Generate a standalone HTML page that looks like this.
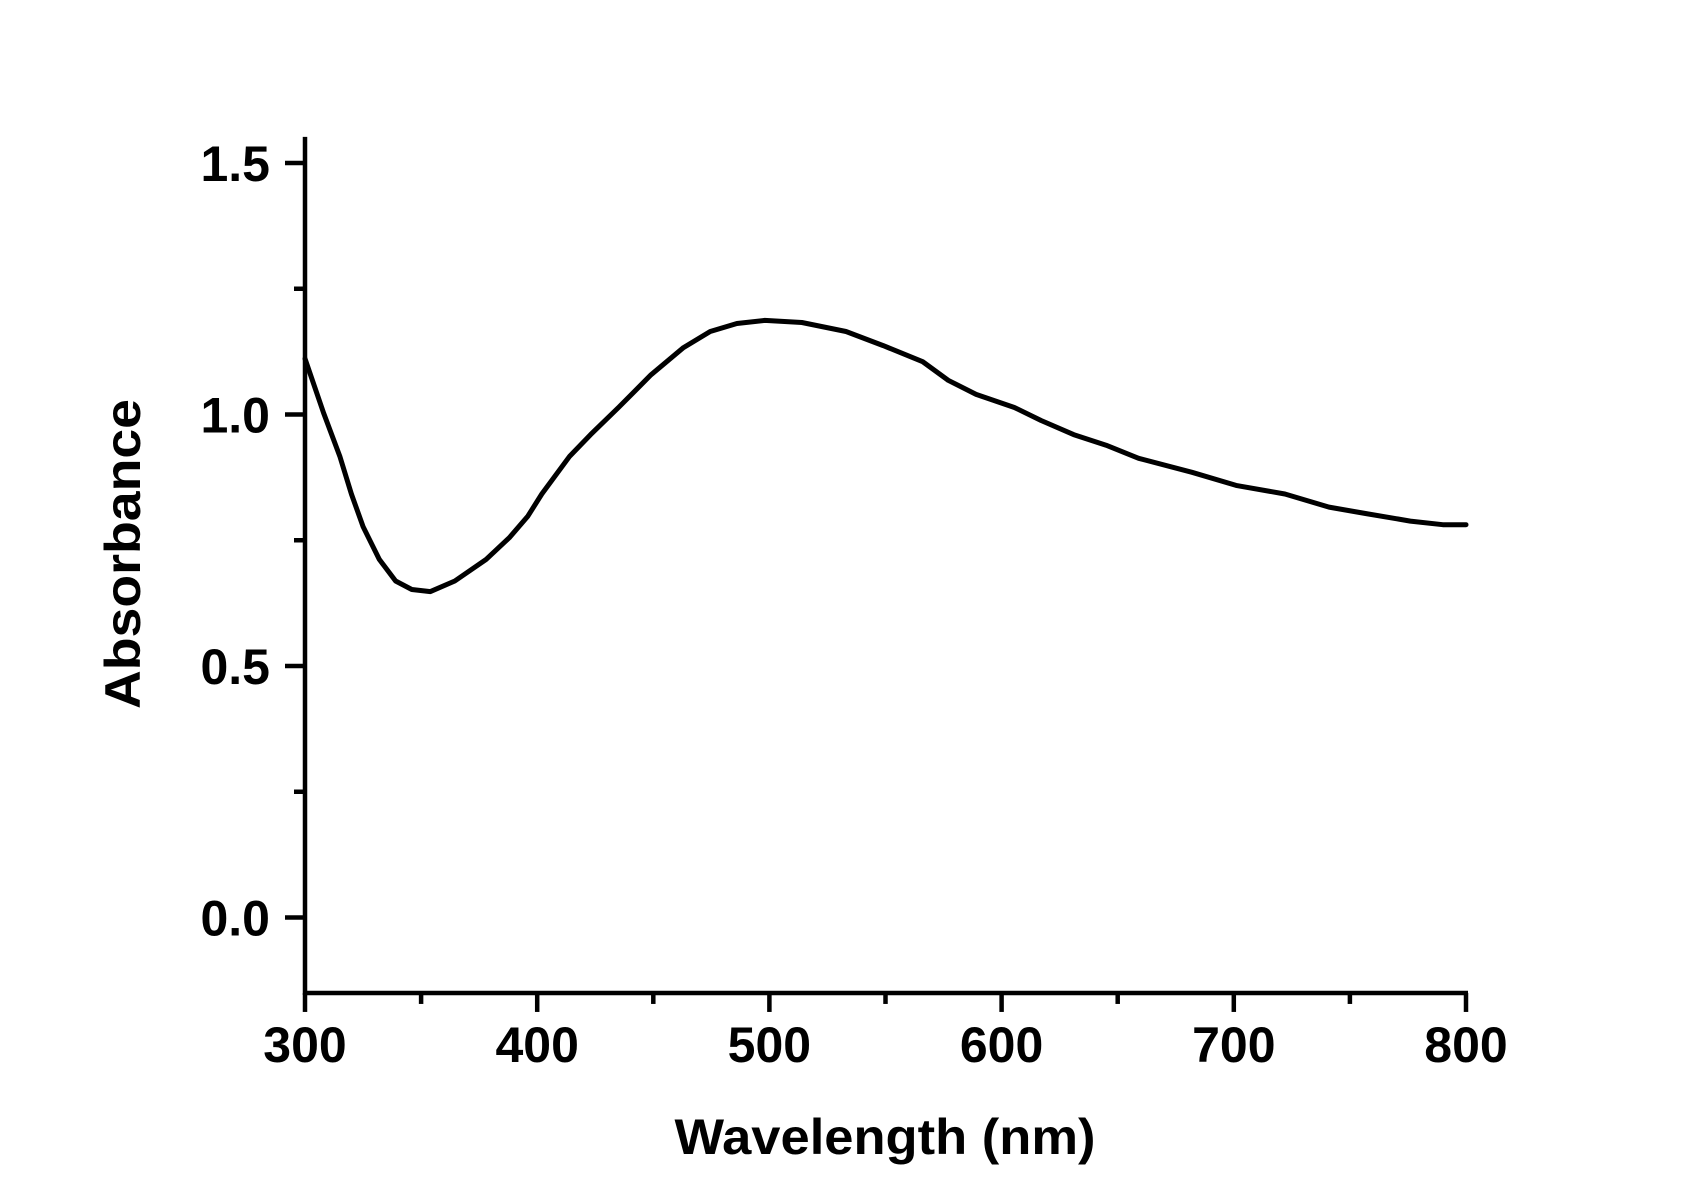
<!DOCTYPE html>
<html><head><meta charset="utf-8"><style>
html,body{margin:0;padding:0;background:#fff;}
svg{display:block;}
text{font-family:"Liberation Sans",Arial,sans-serif;font-weight:bold;fill:#000;}
</style></head><body>
<svg id="chart" width="1703" height="1190" viewBox="0 0 1703 1190" xmlns="http://www.w3.org/2000/svg">
<rect width="1703" height="1190" fill="#fff"/>
<g id="axes"></g>
<path id="curve" fill="none" stroke="#000" stroke-width="5" stroke-linejoin="round" stroke-linecap="round"/>
<text x="885" y="1154" font-size="50" text-anchor="middle" textLength="421" lengthAdjust="spacingAndGlyphs">Wavelength (nm)</text>
<text transform="translate(140,554) rotate(-90)" font-size="50" text-anchor="middle" textLength="310" lengthAdjust="spacingAndGlyphs">Absorbance</text>
</svg>
<script>
const wavelengths=[300,308,315,320,325,332,339,346,354,364.5,378,388,396,402,414,423,435,449,463,474.5,486,498,514,533,549,566,577,589,605.5,617,631,645,659,682,701,722,741,757,776,790,800];
const absorbance=[1.111,1.003,0.917,0.842,0.777,0.712,0.669,0.652,0.648,0.669,0.712,0.755,0.798,0.842,0.917,0.960,1.014,1.079,1.133,1.165,1.181,1.187,1.183,1.165,1.137,1.105,1.068,1.040,1.014,0.988,0.960,0.939,0.913,0.885,0.859,0.842,0.816,0.803,0.788,0.781,0.781];
const xTicks=[300,400,500,600,700,800];
const xMinorTicks=[350,450,550,650,750];
const yTicks=[0.0,0.5,1.0,1.5];
const yTickLabels=["0.0","0.5","1.0","1.5"];
const yMinorTicks=[0.25,0.75,1.25];

const X0=305,X1=1466,XMIN=300,XMAX=800;
const Y0=917.5,YPER=503;
function xs(v){return X0+(v-XMIN)*(X1-X0)/(XMAX-XMIN);}
function ys(v){return Y0-v*YPER;}
const NS="http://www.w3.org/2000/svg";
const axes=document.getElementById('axes');
function line(x1,y1,x2,y2,name){
  const l=document.createElementNS(NS,'line');
  l.setAttribute('x1',x1);l.setAttribute('y1',y1);l.setAttribute('x2',x2);l.setAttribute('y2',y2);
  l.setAttribute('stroke','#000');l.setAttribute('stroke-width','4.5');
  
  
  axes.appendChild(l);
}
function txt(x,y,s,anchor,name){
  const t=document.createElementNS(NS,'text');
  t.setAttribute('x',x);t.setAttribute('y',y);t.setAttribute('font-size','50');
  t.setAttribute('text-anchor',anchor);t.textContent=s;
  
  
  axes.appendChild(t);
}
const yBottom=ys(-0.15), yTop=ys(1.552);
line(X0,yTop,X0,yBottom+2,'y-axis-line');
line(X0-2,yBottom,X1+2,yBottom,'x-axis-line');
xTicks.forEach(v=>{line(xs(v),yBottom,xs(v),yBottom+19,'x-major-tick');txt(xs(v),1062,String(v),'middle','x-tick-label');});
xMinorTicks.forEach(v=>line(xs(v),yBottom,xs(v),yBottom+11,'x-minor-tick'));
yTicks.forEach((v,i)=>{line(X0-20,ys(v),X0,ys(v),'y-major-tick');txt(270,ys(v)+18,yTickLabels[i],'end','y-tick-label');});
yMinorTicks.forEach(v=>line(X0-11,ys(v),X0,ys(v),'y-minor-tick'));
let d='';
wavelengths.forEach((w,i)=>{d+=(i?'L':'M')+xs(w).toFixed(1)+','+ys(absorbance[i]).toFixed(1);});
document.getElementById('curve').setAttribute('d',d);
</script>
</body></html>
